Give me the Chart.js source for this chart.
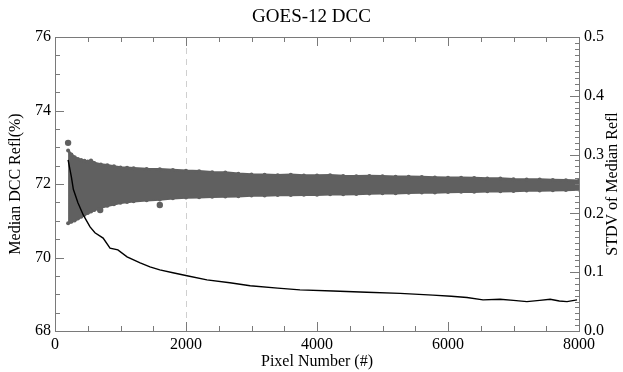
<!DOCTYPE html>
<html><head><meta charset="utf-8">
<script src="https://cdn.jsdelivr.net/npm/chart.js@4.4.1/dist/chart.umd.min.js"></script>
<style>html,body{margin:0;padding:0;background:#fff}#wrap{width:623px;height:372px}</style>
</head><body><div id="wrap"><canvas id="c" width="623" height="372"></canvas></div>
<script>
// ---- data ----
const titleText = 'GOES-12 DCC';
const xTitle = 'Pixel Number (#)';
const leftTitle = 'Median DCC Refl(%)';
const rightTitle = 'STDV of Median Refl';

const xTicks = [0, 2000, 4000, 6000, 8000];
const leftTicks = [68, 70, 72, 74, 76];
const rightTicks = [0.0, 0.1, 0.2, 0.3, 0.4, 0.5];
const xMinorStep = 500, leftMinorStep = 0.5, rightMinorStep = 0.01;
const dashX = 2000;

// envelope of the scatter of median reflectance (left axis)
const bandX     = [200, 250, 300, 350, 400, 450, 500, 550, 600, 700, 800, 900, 1000, 1100, 1200, 1400, 1600, 1800, 2000, 2200, 2400, 2600, 2800, 3000, 3200, 3400, 3600, 3800, 4000, 4200, 4400, 4600, 4800, 5000, 5200, 5400, 5600, 5800, 6000, 6200, 6400, 6600, 6800, 7000, 7200, 7400, 7600, 7800, 8000];
const bandUpper = [72.91, 72.80, 72.73, 72.68, 72.65, 72.63, 72.61, 72.64, 72.57, 72.53, 72.51, 72.48, 72.45, 72.44, 72.43, 72.41, 72.40, 72.38, 72.36, 72.35, 72.32, 72.31, 72.28, 72.26, 72.25, 72.24, 72.25, 72.23, 72.23, 72.24, 72.22, 72.21, 72.22, 72.21, 72.20, 72.20, 72.19, 72.18, 72.17, 72.17, 72.16, 72.15, 72.15, 72.13, 72.12, 72.12, 72.11, 72.10, 72.09];
const bandLower = [70.93, 70.97, 71.01, 71.06, 71.11, 71.16, 71.21, 71.25, 71.29, 71.36, 71.41, 71.45, 71.49, 71.51, 71.53, 71.56, 71.58, 71.61, 71.63, 71.64, 71.65, 71.66, 71.67, 71.69, 71.69, 71.70, 71.70, 71.71, 71.71, 71.72, 71.72, 71.73, 71.74, 71.75, 71.75, 71.76, 71.77, 71.77, 71.78, 71.79, 71.79, 71.80, 71.80, 71.81, 71.82, 71.82, 71.83, 71.84, 71.85];
const outlierX = [200, 690, 1600];
const outlierY = [73.12, 71.29, 71.43];

// STDV of median reflectance (right axis)
const stdvX = [200, 250, 280, 350, 433, 535, 610, 735, 840, 960, 1100, 1300, 1450, 1600, 1800, 2015, 2320, 2670, 2980, 3400, 3740, 4245, 4760, 5270, 5770, 6050, 6290, 6535, 6795, 7000, 7205, 7400, 7560, 7700, 7817, 7970];
const stdvY = [0.291, 0.262, 0.241, 0.218, 0.197, 0.177, 0.167, 0.158, 0.141, 0.138, 0.126, 0.116, 0.109, 0.104, 0.099, 0.094, 0.087, 0.082, 0.077, 0.073, 0.070, 0.068, 0.066, 0.064, 0.061, 0.059, 0.057, 0.053, 0.054, 0.052, 0.050, 0.052, 0.054, 0.051, 0.050, 0.053];

// ---- chart ----
const FAM = '"Liberation Serif", "DejaVu Serif", serif';
Chart.defaults.font.family = FAM;
Chart.defaults.color = '#000';
const GRAY = '#606060';
const AXIS = '#7a7a7a';

const pts = (xs, ys) => xs.map((x, i) => ({x, y: ys[i]}));

const framePlugin = {
  id: 'frame',
  beforeDatasetsDraw(chart) {
    const {ctx, chartArea: a, scales} = chart;
    const xp = Math.round(scales.x.getPixelForValue(dashX)) + 0.5;
    ctx.save();
    ctx.strokeStyle = '#cfcfcf';
    ctx.lineWidth = 1;
    ctx.setLineDash([6, 5]);
    ctx.beginPath(); ctx.moveTo(xp, a.top); ctx.lineTo(xp, a.bottom); ctx.stroke();
    ctx.restore();
  },
  afterDatasetsDraw(chart) {
    const {ctx, chartArea: a, scales} = chart;
    ctx.save();
    ctx.strokeStyle = AXIS;
    ctx.lineWidth = 1;
    ctx.strokeRect(Math.round(a.left) + 0.5, Math.round(a.top) + 0.5, Math.round(a.right - a.left), Math.round(a.bottom - a.top));
    ctx.beginPath();
    const sx = scales.x, sy = scales.y, s2 = scales.y2;
    for (let v = sx.min; v <= sx.max + 1e-9; v += xMinorStep) {
      const major = xTicks.includes(v);
      const L = major ? 9 : 5;
      const p = Math.round(sx.getPixelForValue(v)) + 0.5;
      ctx.moveTo(p, a.bottom); ctx.lineTo(p, a.bottom - L);
      ctx.moveTo(p, a.top); ctx.lineTo(p, a.top + L);
    }
    for (let v = sy.min; v <= sy.max + 1e-9; v += leftMinorStep) {
      const major = leftTicks.some(t => Math.abs(t - v) < 1e-6);
      const L = major ? 9 : 5;
      const p = Math.round(sy.getPixelForValue(v)) + 0.5;
      ctx.moveTo(a.left, p); ctx.lineTo(a.left + L, p);
    }
    for (let i = 0; i <= Math.round((s2.max - s2.min) / rightMinorStep); i++) {
      const v = s2.min + i * rightMinorStep;
      const major = rightTicks.some(t => Math.abs(t - v) < 1e-6);
      const L = major ? 9 : 4;
      const p = Math.round(s2.getPixelForValue(v)) + 0.5;
      ctx.moveTo(a.right, p); ctx.lineTo(a.right - L, p);
    }
    ctx.stroke();
    ctx.restore();
  },
  afterDraw(chart) {
    const {ctx, chartArea: a} = chart;
    ctx.save();
    ctx.font = '16px ' + FAM;
    ctx.fillStyle = '#000';
    ctx.textAlign = 'center';
    ctx.textBaseline = 'middle';
    ctx.translate(613, (a.top + a.bottom) / 2);
    ctx.rotate(-Math.PI / 2);
    ctx.fillText(rightTitle, 0, 0);
    ctx.restore();
  }
};

const noGrid = { display: false, drawTicks: false, tickLength: 0 };

new Chart(document.getElementById('c'), {
  type: 'line',
  data: {
    datasets: [
      { label: 'stdv', data: pts(stdvX, stdvY), yAxisID: 'y2', borderColor: '#000', borderWidth: 1.4,
        pointRadius: 0, fill: false, tension: 0, order: 0 },
      { label: 'outliers', type: 'scatter', data: pts(outlierX, outlierY), yAxisID: 'y', showLine: false,
        pointRadius: 3.2, pointBackgroundColor: GRAY, pointBorderWidth: 0, order: 1 },
      { label: 'upper', data: pts(bandX, bandUpper), yAxisID: 'y', borderColor: GRAY, backgroundColor: GRAY,
        borderWidth: 2.5, pointRadius: 2, pointBackgroundColor: GRAY, pointBorderWidth: 0, fill: '+1', tension: 0, order: 2 },
      { label: 'lower', data: pts(bandX, bandLower), yAxisID: 'y', borderColor: GRAY, backgroundColor: GRAY,
        borderWidth: 2.5, pointRadius: 2, pointBackgroundColor: GRAY, pointBorderWidth: 0, fill: false, tension: 0, order: 3 }
    ]
  },
  options: {
    responsive: false,
    animation: false,
    devicePixelRatio: 1,
    layout: { padding: 0 },
    plugins: {
      legend: { display: false },
      tooltip: { enabled: false },
      title: { display: true, text: titleText, color: '#000',
        font: { family: FAM, size: 19, weight: 'normal' }, padding: { top: 5.5, bottom: 8.7 } }
    },
    scales: {
      x: {
        type: 'linear', position: 'bottom', min: 0, max: 8000,
        afterBuildTicks: s => { s.ticks = xTicks.map(v => ({ value: v })); },
        afterFit: s => { s.height = 41; },
        grid: noGrid, border: { display: false },
        ticks: { font: { size: 16 }, color: '#000', padding: 4, maxRotation: 0, autoSkip: false, callback: v => String(v) },
        title: { display: true, text: xTitle, font: { size: 16 }, color: '#000', padding: { top: 0, bottom: 0.5 } }
      },
      y: {
        type: 'linear', position: 'left', min: 68, max: 76,
        afterBuildTicks: s => { s.ticks = leftTicks.map(v => ({ value: v })); },
        afterFit: s => { s.width = 55; },
        grid: noGrid, border: { display: false },
        ticks: { font: { size: 16 }, color: '#000', padding: 4, autoSkip: false, callback: v => String(v) },
        title: { display: true, text: leftTitle, font: { size: 16 }, color: '#000', padding: { top: 6.5, bottom: 0 } }
      },
      y2: {
        type: 'linear', position: 'right', min: 0, max: 0.5,
        afterBuildTicks: s => { s.ticks = rightTicks.map(v => ({ value: v })); },
        afterFit: s => { s.width = 44; },
        grid: noGrid, border: { display: false },
        ticks: { font: { size: 16 }, color: '#000', padding: 5, autoSkip: false, callback: v => Number(v).toFixed(1) },
        title: { display: false }
      }
    }
  },
  plugins: [framePlugin]
});
</script>
</body></html>
